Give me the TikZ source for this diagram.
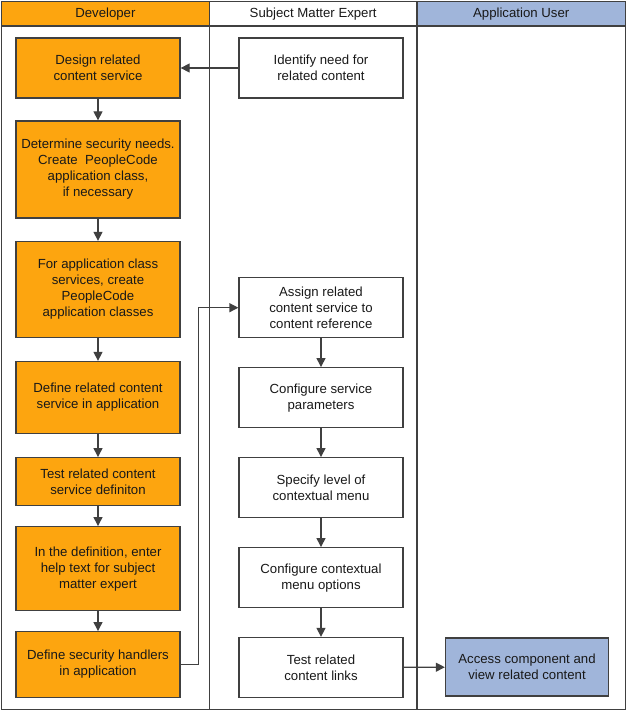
\documentclass[tikz,border=0pt]{standalone}
\usepackage{fontspec}
\setmainfont{Liberation Sans}
\usetikzlibrary{arrows.meta}
\definecolor{devor}{RGB}{253,165,15}
\definecolor{appbl}{RGB}{160,181,218}
\definecolor{ln}{RGB}{64,64,64}
\begin{document}
\begin{tikzpicture}[x=1pt,y=-1pt,
  every node/.style={font=\fontsize{13.2}{16}\selectfont, text=black!90, align=center},
  box/.style={draw=ln, line width=1.3pt, minimum width=164pt, inner sep=2pt},
  devbox/.style={box, fill=devor},
  smebox/.style={box, fill=white},
  appbox/.style={box, fill=appbl, minimum width=163pt},
  conn/.style={draw=ln, line width=1.3pt, -{Triangle[length=9pt,width=9pt]}},
  lane/.style={draw=ln, line width=1.3pt}]
\useasboundingbox (0,0) rectangle (627,711);
% lanes
\path[lane, fill=devor] (1.5,1.5) rectangle (209.3,26);
\path[lane, fill=white] (209.3,1.5) rectangle (417,26);
\path[lane, fill=appbl] (417,1.5) rectangle (625.5,26);
\path[lane] (1.5,26) rectangle (209.3,709.5);
\path[lane] (209.3,26) rectangle (417,709.5);
\path[lane] (417,26) rectangle (625.5,709.5);
\node (h1) at (105.4,14.3) {Developer};
\node (h2) at (313.2,14.3) {Subject Matter Expert};
\node (h3) at (521.2,14.3) {Application User};
% developer
\node[devbox, minimum height=60pt] (d1) at (98,68) {Design related\\content service};
\node[devbox, minimum height=97pt] (d2) at (98,169.5) {Determine security needs.\\Create\ \ PeopleCode\\application class,\\if necessary};
\node[devbox, minimum height=96pt] (d3) at (98,289.5) {For application class\\services, create\\PeopleCode\\application classes};
\node[devbox, minimum height=72pt] (d4) at (98,397.5) {Define related content\\service in application};
\node[devbox, minimum height=48pt] (d5) at (98,481.7) {Test related content\\service definiton};
\node[devbox, minimum height=84pt] (d6) at (98,568.7) {In the definition, enter\\help text for subject\\matter expert};
\node[devbox, minimum height=65.6pt] (d7) at (98,664.5) {Define security handlers\\in application};
% SME
\node[smebox, minimum height=60pt] (s1) at (321,68) {Identify need for\\related content};
\node[smebox, minimum height=60pt] (s2) at (321,307.7) {Assign related\\content service to\\content reference};
\node[smebox, minimum height=60pt] (s3) at (321,397.7) {Configure service\\parameters};
\node[smebox, minimum height=60pt] (s4) at (321,487.7) {Specify level of\\contextual menu};
\node[smebox, minimum height=60pt] (s5) at (321,577.7) {Configure contextual\\menu options};
\node[smebox, minimum height=60pt] (s6) at (321,667.5) {Test related\\content links};
% app user
\node[appbox, minimum height=58pt] (a1) at (527,667) {Access component and\\view related content};
% connectors
\draw[conn] (s1) -- (d1);
\draw[conn] (d1) -- (d2);
\draw[conn] (d2) -- (d3);
\draw[conn] (d3) -- (d4);
\draw[conn] (d4) -- (d5);
\draw[conn] (d5) -- (d6);
\draw[conn] (d6) -- (d7);
\draw[conn] (d7.east) -- ++(18,0) |- (s2.west);
\draw[conn] (s2) -- (s3);
\draw[conn] (s3) -- (s4);
\draw[conn] (s4) -- (s5);
\draw[conn] (s5) -- (s6);
\draw[conn] (s6) -- (a1);
\end{tikzpicture}
\end{document}
